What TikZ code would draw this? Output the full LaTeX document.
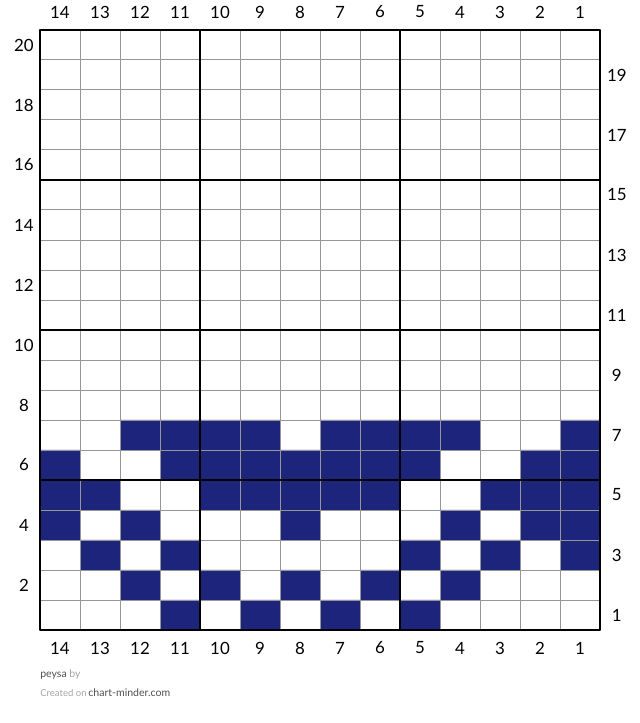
\documentclass[tikz,border=0pt]{standalone}
\usepackage{fontspec}
\setmainfont{Lato}
\definecolor{stitchblue}{RGB}{28,36,124}
\definecolor{gridgrey}{RGB}{150,150,150}
\definecolor{footdark}{RGB}{80,80,80}
\definecolor{footlight}{RGB}{165,165,165}
\begin{document}
\begin{tikzpicture}[x=1cm, y=0.75cm, font=\fontsize{12}{14}\selectfont, line join=round, line cap=round]
			\useasboundingbox (-1,-3.1) rectangle (15,21);
			% stitches, row by row from the top
			\fill[stitchblue] (2,6) rectangle (6,7) (7,6) rectangle (11,7) (13,6) rectangle (14,7);
			\fill[stitchblue] (0,5) rectangle (1,6) (3,5) rectangle (10,6) (12,5) rectangle (14,6);
			\fill[stitchblue] (0,4) rectangle (2,5) (4,4) rectangle (9,5) (11,4) rectangle (14,5);
			\fill[stitchblue] (0,3) rectangle (1,4) (2,3) rectangle (3,4) (6,3) rectangle (7,4) (10,3) rectangle (11,4) (12,3) rectangle (14,4);
			\fill[stitchblue] (1,2) rectangle (2,3) (3,2) rectangle (4,3) (9,2) rectangle (10,3) (11,2) rectangle (12,3) (13,2) rectangle (14,3);
			\fill[stitchblue] (2,1) rectangle (3,2) (4,1) rectangle (5,2) (6,1) rectangle (7,2) (8,1) rectangle (9,2) (10,1) rectangle (11,2);
			\fill[stitchblue] (3,0) rectangle (4,1) (5,0) rectangle (6,1) (7,0) rectangle (8,1) (9,0) rectangle (10,1);
			% grid
			\draw[gridgrey, line width=0.7pt] (0,0) grid[xstep=1cm, ystep=0.75cm] (14,20);
			\draw[black, line width=1.4pt] (4,0)--(4,20) (9,0)--(9,20) (0,5)--(14,5) (0,10)--(14,10) (0,15)--(14,15);
			\draw[black, line width=1.8pt, line cap=rect] (0,0) rectangle (14,20);
			\path
			(0.5,20.6) node (top14) {14}
			(1.5,20.6) node (top13) {13}
			(2.5,20.6) node (top12) {12}
			(3.5,20.6) node (top11) {11}
			(4.5,20.6) node (top10) {10}
			(5.5,20.6) node (top9) {9}
			(6.5,20.6) node (top8) {8}
			(7.5,20.6) node (top7) {7}
			(8.5,20.6) node (top6) {6}
			(9.5,20.6) node (top5) {5}
			(10.5,20.6) node (top4) {4}
			(11.5,20.6) node (top3) {3}
			(12.5,20.6) node (top2) {2}
			(13.5,20.6) node (top1) {1}

			(0.5,-0.6) node (bot14) {14}
			(1.5,-0.6) node (bot13) {13}
			(2.5,-0.6) node (bot12) {12}
			(3.5,-0.6) node (bot11) {11}
			(4.5,-0.6) node (bot10) {10}
			(5.5,-0.6) node (bot9) {9}
			(6.5,-0.6) node (bot8) {8}
			(7.5,-0.6) node (bot7) {7}
			(8.5,-0.6) node (bot6) {6}
			(9.5,-0.6) node (bot5) {5}
			(10.5,-0.6) node (bot4) {4}
			(11.5,-0.6) node (bot3) {3}
			(12.5,-0.6) node (bot2) {2}
			(13.5,-0.6) node (bot1) {1}

			(-0.4,19.5) node (row20) {20}
			(-0.4,17.5) node (row18) {18}
			(-0.4,15.5) node (row16) {16}
			(-0.4,13.5) node (row14) {14}
			(-0.4,11.5) node (row12) {12}
			(-0.4,9.5) node (row10) {10}
			(-0.4,7.5) node (row8) {8}
			(-0.4,5.5) node (row6) {6}
			(-0.4,3.5) node (row4) {4}
			(-0.4,1.5) node (row2) {2}

			(14.42,18.5) node (row19) {19}
			(14.42,16.5) node (row17) {17}
			(14.42,14.5) node (row15) {15}
			(14.42,12.5) node (row13) {13}
			(14.42,10.5) node (row11) {11}
			(14.42,8.5) node (row9) {9}
			(14.42,6.5) node (row7) {7}
			(14.42,4.5) node (row5) {5}
			(14.42,2.5) node (row3) {3}
			(14.42,0.5) node (row1) {1};

			\node[anchor=west, inner sep=0pt, font=\fontsize{7.5}{8}\selectfont] (maker) at (0,-1.48) {\textcolor{footdark}{peysa} \textcolor{footlight}{by}};
			\node[anchor=west, inner sep=0pt, font=\fontsize{7.5}{8}\selectfont] (site) at (0,-2.08) {\textcolor{footlight}{\fontsize{6.8}{8}\selectfont Created on}\,\textcolor{footdark}{chart-minder.com}};
		\end{tikzpicture}
\end{document}
